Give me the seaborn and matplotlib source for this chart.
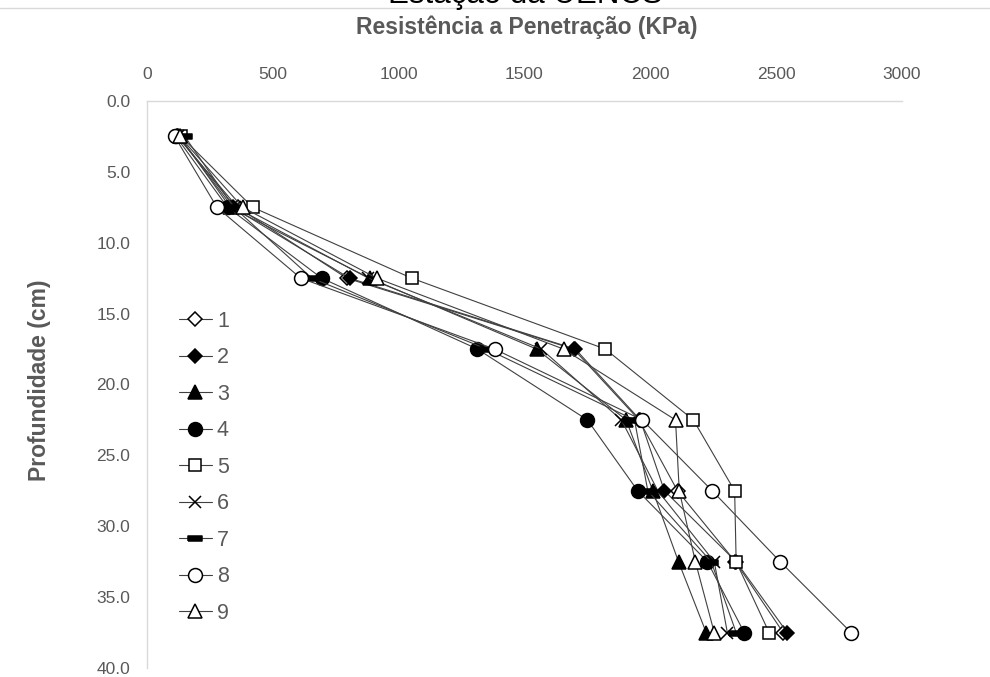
import matplotlib
matplotlib.use("Agg")
import matplotlib.pyplot as plt
import seaborn as sns
import pandas as pd
from matplotlib.lines import Line2D

# ---- data ----
depth = [2.5, 7.5, 12.5, 17.5, 22.5, 27.5, 32.5, 37.5]
s1 = [120, 360, 794, 1695, 1955, 2108, 2338, 2528]
s2 = [125, 340, 805, 1702, 1960, 2056, 2341, 2544]
s3 = [130, 330, 885, 1548, 1904, 2010, 2112, 2222]
s4 = [115, 320, 694, 1313, 1750, 1950, 2227, 2373]
s5 = [135, 420, 1052, 1821, 2171, 2335, 2341, 2472]
s6 = [125, 350, 880, 1567, 1885, 2030, 2254, 2306]
s7 = [150, 345, 655, 1350, 1937, 1990, 2242, 2341]
s8 = [110, 278, 611, 1381, 1968, 2246, 2516, 2798]
s9 = [130, 380, 913, 1655, 2100, 2115, 2179, 2254]
series_names = ["1", "2", "3", "4", "5", "6", "7", "8", "9"]
series_vals = [s1, s2, s3, s4, s5, s6, s7, s8, s9]
x_ticks = [0, 500, 1000, 1500, 2000, 2500, 3000]
y_ticks = [0, 5, 10, 15, 20, 25, 30, 35, 40]

rows = []
for name, vals in zip(series_names, series_vals):
    for d, v in zip(depth, vals):
        rows.append({"serie": name, "kpa": v, "depth": d})
df = pd.DataFrame(rows)

sns.set_style("white")
plt.rcParams["font.family"] = ["Liberation Sans", "DejaVu Sans"]

GREY = "#595959"
LINE = "#404040"

dash_marker = [(-1, -0.36), (1, -0.36), (1, 0.36), (-1, 0.36), (-1, -0.36)]
styles = {
    "1": dict(marker="D", ms=7.6, mfc="white"),
    "2": dict(marker="D", ms=7.6, mfc="black"),
    "3": dict(marker="^", ms=10, mfc="black"),
    "4": dict(marker="o", ms=10, mfc="black"),
    "5": dict(marker="s", ms=9, mfc="white"),
    "6": dict(marker="x", ms=9, mfc="black"),
    "7": dict(marker=dash_marker, ms=10, mfc="black"),
    "8": dict(marker="o", ms=10, mfc="white"),
    "9": dict(marker="^", ms=10, mfc="white"),
}

fig = plt.figure(figsize=(9.9, 6.77), dpi=100)
ax = fig.add_axes([147 / 990, 1 - 668 / 677, (902 - 147) / 990, (668 - 101) / 677])

for name in series_names:
    st = styles[name]
    sub = df[df["serie"] == name]
    sns.lineplot(data=sub, x="kpa", y="depth", sort=False, estimator=None,
                 ax=ax, color=LINE, linewidth=0.8, label=name,
                 marker=st["marker"], markersize=st["ms"],
                 markerfacecolor=st["mfc"], markeredgecolor="black",
                 markeredgewidth=1.1)

ax.set_xlim(0, 3000)
ax.set_ylim(40, 0)
ax.set_xticks(x_ticks)
ax.set_yticks(y_ticks)
ax.set_yticklabels([f"{v:.1f}" for v in y_ticks])
ax.xaxis.tick_top()
ax.xaxis.set_label_position("top")
ax.tick_params(axis="both", length=0, labelsize=12.5, colors=GREY)
ax.tick_params(axis="x", pad=14)
ax.tick_params(axis="y", pad=12)
for s in ["right", "bottom"]:
    ax.spines[s].set_visible(False)
for s in ["top", "left"]:
    ax.spines[s].set_color("#d9d9d9")
    ax.spines[s].set_linewidth(1.0)

ax.set_xlabel("")
ax.set_ylabel("")
fig.text(527 / 990, 1 - 34 / 677, "Resistência a Penetração (KPa)", ha="center",
         va="baseline", fontsize=16.5, fontweight="bold", color=GREY)
fig.text(40 / 990, 1 - 380 / 677, "Profundidade (cm)", ha="center", va="center",
         rotation=90, fontsize=16.5, fontweight="bold", color=GREY)
fig.text(525 / 990, 1 - 3 / 677, "Estação da UENCS", ha="center", va="baseline",
         fontsize=22.5, color="black")
fig.add_artist(Line2D([0, 1], [1 - 8 / 677, 1 - 8 / 677], color="#d9d9d9",
                      linewidth=1.0, transform=fig.transFigure))

leg = ax.legend(loc="upper left", bbox_to_anchor=(179 / 990, 1 - 311 / 677),
                bbox_transform=fig.transFigure, frameon=False, fontsize=15.5,
                handlelength=1.53, handletextpad=0.23, labelspacing=0.72,
                borderpad=0, borderaxespad=0, numpoints=1)
for t in leg.get_texts():
    t.set_color(GREY)

fig.savefig("out.png", dpi=100)
